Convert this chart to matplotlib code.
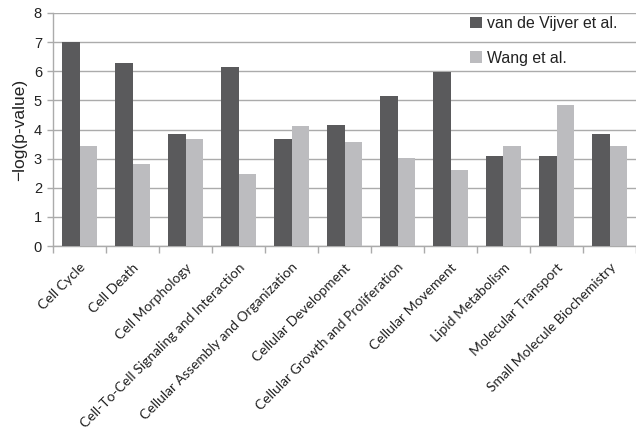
import numpy as np
import matplotlib
matplotlib.use("Agg")
import matplotlib.pyplot as plt
from matplotlib.patches import Patch

categories = [
    "Cell Cycle", "Cell Death", "Cell Morphology",
    "Cell-To-Cell Signaling and Interaction",
    "Cellular Assembly and Organization", "Cellular Development",
    "Cellular Growth and Proliferation", "Cellular Movement",
    "Lipid Metabolism", "Molecular Transport", "Small Molecule Biochemistry",
]
vijver = [7.01, 6.30, 3.84, 6.14, 3.66, 4.14, 5.15, 5.98, 3.08, 3.08, 3.85]
wang = [3.43, 2.80, 3.68, 2.48, 4.13, 3.57, 3.03, 2.62, 3.44, 4.84, 3.44]
series_names = ["van de Vijver et al.", "Wang et al."]
y_ticks = [0, 1, 2, 3, 4, 5, 6, 7, 8]

dark = "#5a5a5c"
light = "#bcbcbf"
grid = "#ababab"

fig = plt.figure(figsize=(6.36, 4.32), dpi=100)
ax = fig.add_axes([53 / 636, 1 - 246 / 432, 1 - 53 / 636, (246 - 13) / 432])

x = np.arange(len(categories))
w = 0.33
ax.bar(x - w / 2, vijver, width=w, color=dark, zorder=3)
ax.bar(x + w / 2, wang, width=w, color=light, zorder=3)

ax.set_xlim(-0.5, len(categories) - 0.5)
ax.set_ylim(0, 8)
ax.set_yticks(y_ticks)
ax.set_yticklabels([str(t) for t in y_ticks], family="Liberation Sans",
                   fontsize=10.5, color="#222222")
ax.yaxis.grid(True, color=grid, linewidth=1.0, zorder=0)

# category boundaries carry the x tick marks, labels sit at centres
ax.set_xticks(np.arange(len(categories) + 1) - 0.5)
ax.set_xticklabels([])
ax.set_xticks(x, minor=True)
ax.set_xticklabels(categories, minor=True, rotation=45, ha="right",
                   rotation_mode="anchor", family="Lato", fontsize=10,
                   color="#222222")
ax.tick_params(axis="x", which="minor", length=0, pad=11)
ax.tick_params(axis="x", which="major", length=5, color=grid, width=1)
ax.tick_params(axis="y", length=4, color=grid, width=1, pad=4)

for s in ["top", "right"]:
    ax.spines[s].set_visible(False)
for s in ["left", "bottom"]:
    ax.spines[s].set_color(grid)
    ax.spines[s].set_linewidth(1)

ax.set_ylabel("\u2212log(p-value)", family="Liberation Sans", fontsize=12.5,
              labelpad=5, color="#222222")

handles = [Patch(facecolor=dark), Patch(facecolor=light)]
fig.legend(handles, series_names, loc="upper left",
           bbox_to_anchor=(470 / 636, 1 - 16 / 432), frameon=False,
           prop={"family": "Liberation Sans", "size": 11.4},
           handlelength=0.75, handleheight=0.75, handletextpad=0.35,
           labelspacing=1.25, borderaxespad=0, borderpad=0,
           labelcolor="#222222")

fig.savefig("out.png", dpi=100, facecolor="white")
